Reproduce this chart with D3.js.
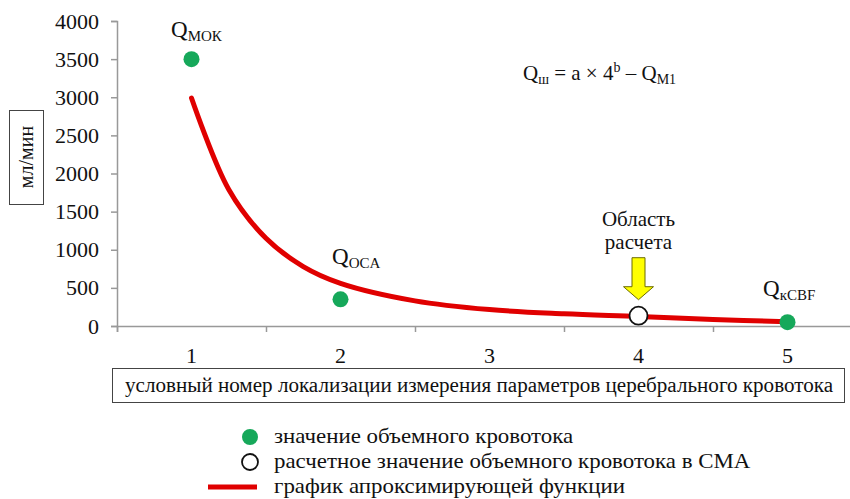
<!DOCTYPE html>
<html>
<head>
<meta charset="utf-8">
<script src="https://cdn.jsdelivr.net/npm/d3@7"></script>
<style>
  body { margin: 0; background: #fff; }
</style>
</head>
<body>
<div id="chart"></div>
<script>
// measured flow values (green dots): position number -> ml/min
var measured = [
  { x: 1, y: 3500 },
  { x: 2, y: 350 },
  { x: 5, y: 50 }
];
// calculated value in MCA (open circle)
var calculated = [{ x: 4, y: 135 }];
// approximating curve
var curvePts = [
  { x: 1, y: 2990 }, { x: 1.25, y: 1790 }, { x: 1.5, y: 1150 }, { x: 1.75, y: 780 },
  { x: 2, y: 560 }, { x: 2.5, y: 330 }, { x: 3, y: 215 }, { x: 3.5, y: 160 },
  { x: 4, y: 125 }, { x: 4.5, y: 85 }, { x: 5, y: 55 }
];
var categories = [1, 2, 3, 4, 5];
var yTicks = [0, 500, 1000, 1500, 2000, 2500, 3000, 3500, 4000];

var width = 850, height = 499;

var svg = d3.select("#chart").append("svg")
  .attr("width", width).attr("height", height);

var x = d3.scaleLinear().domain([0.5, 5.5]).range([117, 862]);
var y = d3.scaleLinear().domain([0, 4000]).range([326, 21]);

/* axes */
var yAxis = d3.axisLeft(y).tickValues(yTicks).tickSize(6).tickPadding(12)
  .tickFormat(d3.format("d"));
var gy = svg.append("g").attr("transform", "translate(117,0)").call(yAxis);
gy.select(".domain").attr("stroke", "#999").attr("stroke-width", 1.5);
gy.selectAll(".tick line").attr("stroke", "#999").attr("stroke-width", 1.5);
gy.selectAll(".tick text").style("font-size", "22px");

var xAxis = d3.axisBottom(x).tickValues([0.5, 1.5, 2.5, 3.5, 4.5, 5.5])
  .tickSize(6).tickFormat("");
var gx = svg.append("g").attr("transform", "translate(0,326)").call(xAxis);
gx.select(".domain").attr("stroke", "#999").attr("stroke-width", 1.5);
gx.selectAll(".tick line").attr("stroke", "#999").attr("stroke-width", 1.5);

svg.append("g").selectAll("text").data(categories).enter().append("text")
  .attr("x", d => x(d)).attr("y", 363)
  .attr("text-anchor", "middle").style("font-size", "22px")
  .text(d => d);

/* axis title boxes */
svg.append("rect").attr("x", 9.5).attr("y", 110.5).attr("width", 34).attr("height", 94)
  .attr("fill", "#fff").attr("stroke", "#444").attr("stroke-width", 1);
svg.append("text").attr("transform", "translate(33,157) rotate(-90)")
  .attr("text-anchor", "middle").style("font-size", "20px").text("мл/мин");

svg.append("rect").attr("x", 112.5).attr("y", 368.5).attr("width", 732).attr("height", 34)
  .attr("fill", "#fff").attr("stroke", "#444").attr("stroke-width", 1);
svg.append("text").attr("x", 125).attr("y", 392)
  .style("font-size", "20px")
  .attr("textLength", 708).attr("lengthAdjust", "spacingAndGlyphs")
  .text("условный номер локализации измерения параметров церебрального кровотока");

/* curve */
var line = d3.line().x(d => x(d.x)).y(d => y(d.y)).curve(d3.curveCatmullRom.alpha(0.5));
svg.append("path").datum(curvePts).attr("d", line)
  .attr("fill", "none").attr("stroke", "#e00000").attr("stroke-width", 5)
  .attr("stroke-linecap", "round");

/* points */
svg.append("g").selectAll("circle").data(measured).enter().append("circle")
  .attr("cx", d => x(d.x)).attr("cy", d => y(d.y)).attr("r", 8)
  .attr("fill", "#16a85a");
svg.append("g").selectAll("circle").data(calculated).enter().append("circle")
  .attr("cx", d => x(d.x)).attr("cy", d => y(d.y)).attr("r", 9)
  .attr("fill", "#fff").attr("stroke", "#111").attr("stroke-width", 1.8);

/* arrow above calculated point */
var ax = x(4), aTip = y(135) - 16;
svg.append("path")
  .attr("d", `M${ax - 6.5},${aTip - 42} L${ax + 6.5},${aTip - 42} L${ax + 6.5},${aTip - 13}
    L${ax + 15},${aTip - 13} L${ax},${aTip} L${ax - 15},${aTip - 13} L${ax - 6.5},${aTip - 13} Z`)
  .attr("fill", "#ffff00").attr("stroke", "#6b6b00").attr("stroke-width", 1);

svg.append("text").attr("x", ax).attr("y", 226).attr("text-anchor", "middle")
  .style("font-size", "21px").text("Область");
svg.append("text").attr("x", ax).attr("y", 249).attr("text-anchor", "middle")
  .style("font-size", "21px").text("расчета");

/* point labels */
function qLabel(px, py, sub) {
  var t = svg.append("text").attr("x", px).attr("y", py).style("font-size", "23px");
  t.append("tspan").text("Q");
  t.append("tspan").attr("dy", 4).style("font-size", "15px").text(sub);
}
qLabel(171, 37, "МОК");
qLabel(332, 264, "OCA");
qLabel(763, 296, "кCBF");

/* formula */
var f = svg.append("text").attr("x", 523).attr("y", 80).style("font-size", "21px");
f.append("tspan").text("Q");
f.append("tspan").attr("dy", 4).style("font-size", "14px").text("ш");
f.append("tspan").attr("dy", -4).text(" = a × 4");
f.append("tspan").attr("dy", -8).style("font-size", "14px").text("b");
f.append("tspan").attr("dy", 8).text(" – Q");
f.append("tspan").attr("dy", 4).style("font-size", "14px").text("M1");

/* legend */
var legend = [
  { type: "dot", label: "значение объемного кровотока" },
  { type: "open", label: "расчетное значение объемного кровотока в СМА" },
  { type: "line", label: "график апроксимирующей функции" }
];
var lg = svg.append("g").selectAll("g").data(legend).enter().append("g")
  .attr("transform", (d, i) => `translate(0,${437 + i * 25})`);
lg.filter(d => d.type === "dot").append("circle").attr("cx", 250).attr("r", 8).attr("fill", "#16a85a");
lg.filter(d => d.type === "open").append("circle").attr("cx", 250).attr("r", 8)
  .attr("fill", "#fff").attr("stroke", "#111").attr("stroke-width", 1.8);
lg.filter(d => d.type === "line").append("line").attr("x1", 208).attr("x2", 257)
  .attr("stroke", "#e00000").attr("stroke-width", 5);
var lgText = lg.append("text").attr("x", 274).attr("y", 6).style("font-size", "21px")
  .style("font-family", "Liberation Serif").text(d => d.label);
// reference legend glyphs are a little wider than the font gives
lgText.each(function () {
  var len = this.getComputedTextLength();
  d3.select(this).attr("textLength", len * 1.09).attr("lengthAdjust", "spacingAndGlyphs");
});

// same serif face on every text
svg.selectAll("text").style("font-family", "Liberation Serif").attr("fill", "#111");
</script>
</body>
</html>
